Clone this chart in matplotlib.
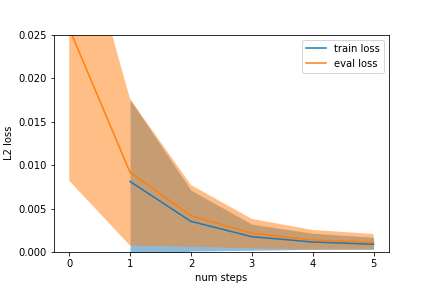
import matplotlib
matplotlib.use("Agg")
import matplotlib.pyplot as plt

# dados
train_steps = [1, 2, 3, 4, 5]
train_mean = [0.0081, 0.00352, 0.00176, 0.00115, 0.00089]
train_low = [-0.0013, 0.0001, 0.0002, 0.0003, 0.0003]
train_high = [0.0175, 0.0071, 0.0032, 0.00215, 0.0017]

eval_steps = [0, 1, 2, 3, 4, 5]
eval_mean = [0.0257, 0.00914, 0.00418, 0.00215, 0.00138, 0.00112]
eval_low = [0.0082, 0.00073, 0.0006, 0.00042, 0.0003, 0.0003]
eval_high = [0.0425, 0.0176, 0.0077, 0.0038, 0.00253, 0.00207]

fig, ax = plt.subplots(figsize=(6, 4), dpi=72)
fig.subplots_adjust(left=0.125, right=0.9, bottom=0.125, top=0.88)

# faixas primeiro, linhas por cima
ax.fill_between(train_steps, train_low, train_high, color="C0", alpha=0.5, linewidth=0)
ax.fill_between(eval_steps, eval_low, eval_high, color="C1", alpha=0.5, linewidth=0)
ax.plot(train_steps, train_mean, color="C0", label="train loss")
ax.plot(eval_steps, eval_mean, color="C1", label="eval loss")

ax.set_ylim(0, 0.025)
ax.set_xlabel("num steps")
ax.set_ylabel("L2 loss")
ax.legend(loc="upper right")

fig.savefig("out.png", dpi=72)
